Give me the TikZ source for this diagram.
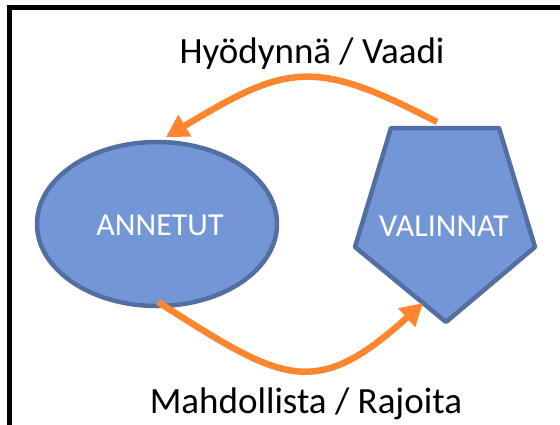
\documentclass[tikz,border=0pt]{standalone}
\usepackage{fontspec}
\setmainfont{Carlito}
\usetikzlibrary{shapes.geometric,arrows.meta}
\definecolor{shapefill}{RGB}{115,151,214}
\definecolor{shapeedge}{RGB}{82,110,162}
\definecolor{arroworange}{RGB}{253,134,47}
\tikzset{
  blueshape/.style={fill=shapefill,draw=shapeedge,line width=4.5pt,line join=round},
  innertext/.style={text=white,font=\fontsize{32}{37}\selectfont,anchor=base,inner sep=0pt},
  outertext/.style={text=black,font=\fontsize{37}{43}\selectfont,anchor=base,inner sep=0pt},
  flow/.style={draw=arroworange,line width=6.5pt,-{Triangle[length=22pt,width=24pt]}},
  frameline/.style={draw=black,line width=4.5pt}
}
\begin{document}
\begin{tikzpicture}[x=1pt,y=-1pt]
\useasboundingbox (0,0) rectangle (560,424);
% frame
\coordinate (fb) at (9.5,440);
\coordinate (fc) at (9.5,7.5);
\coordinate (fr) at (580,7.5);
\draw[frameline] (fb) -- (fc) -- (fr);
% ellipse
\node[blueshape,ellipse,minimum width=240pt,minimum height=164pt,inner sep=0pt] (ann) at (157,224) {};
\node[innertext] (anntext) at (160,235) {ANNETUT};
% pentagon
\coordinate (p1) at (391,128);
\coordinate (p2) at (499,128);
\coordinate (p3) at (535,247);
\coordinate (p4) at (446,322);
\coordinate (p5) at (355,247);
\draw[blueshape] (p1) -- (p2) -- (p3) -- (p4) -- (p5) -- cycle;
\node[innertext] (val) at (444,236.5) {VALINNAT};
% labels
\node[outertext] (top) at (312,63) {Hyödynnä / Vaadi};
\node[outertext] (bot) at (306,413) {Mahdollista / Rajoita};
% arrows
\coordinate (a1s) at (437,122);
\coordinate (a1e) at (166,137);
\coordinate (a2s) at (158,302);
\coordinate (a2e) at (423,303);
\draw[flow] (a1s) .. controls (313,57) and (286,65) .. (a1e);
\draw[flow] (a2s) .. controls (282,381) and (314,402) .. (a2e);
\end{tikzpicture}
\end{document}
